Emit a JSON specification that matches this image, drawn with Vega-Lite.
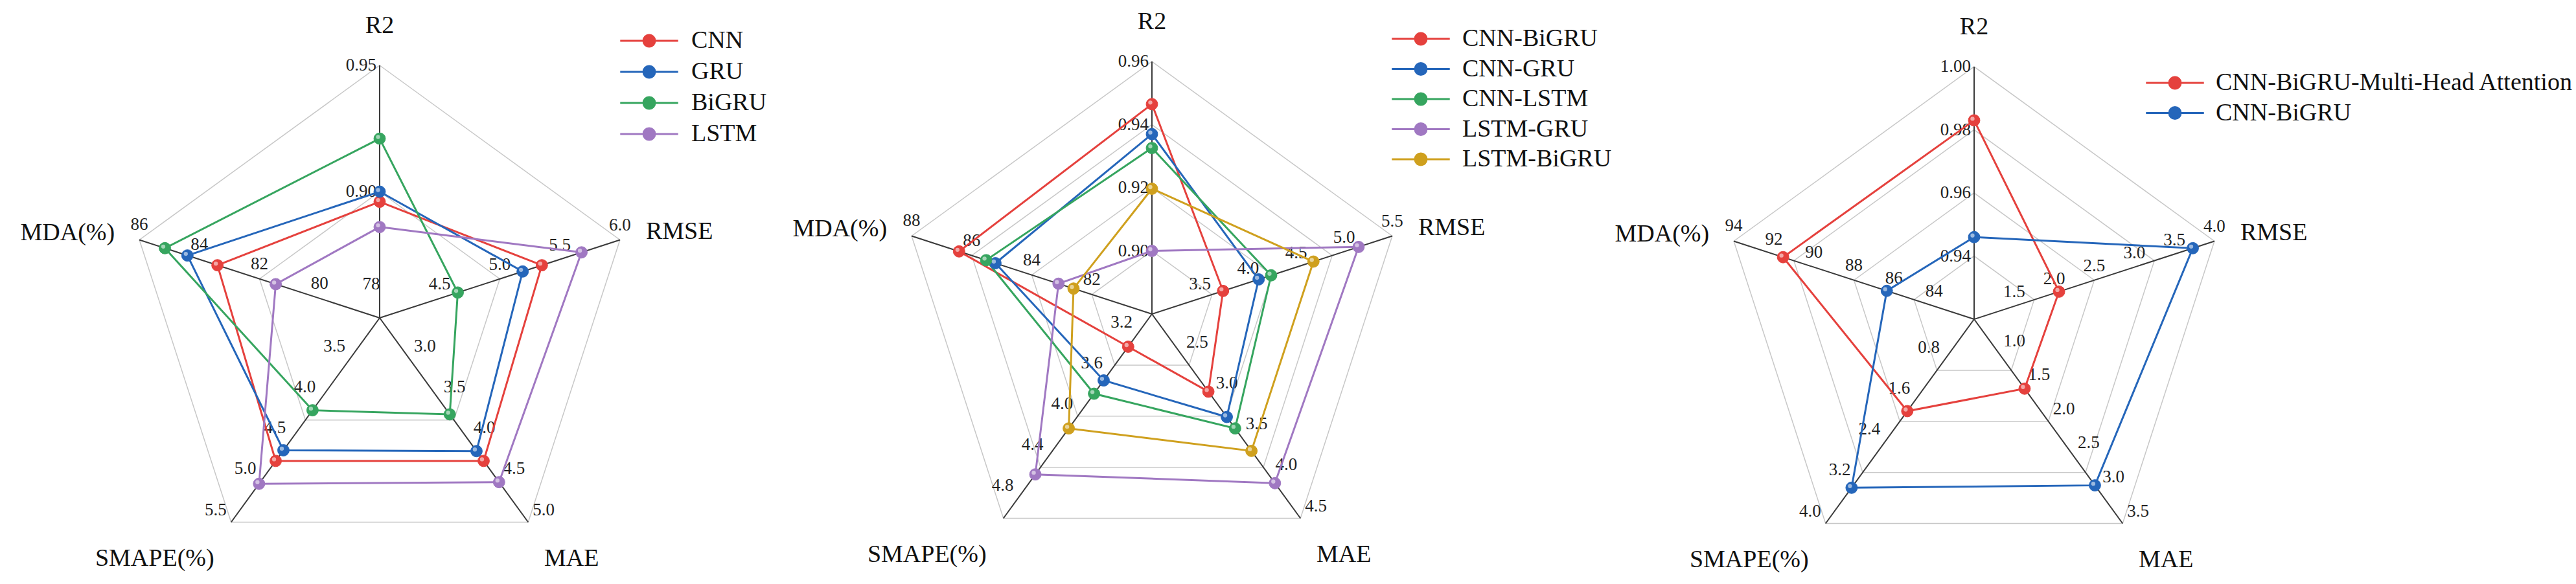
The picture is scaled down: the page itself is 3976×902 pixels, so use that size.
{
  "$schema": "https://vega.github.io/schema/vega-lite/v6.json",
  "padding": 0,
  "spacing": 0,
  "bounds": "flush",
  "background": "white",
  "config": {"view": {"stroke": null}, "axis": {"disable": true}},
  "resolve": {"scale": {"x": "independent", "y": "independent", "stroke": "independent", "fill": "independent"}},
  "datasets": {
    "ax1": [
      {"metric": "R2", "lo": 0.85, "hi": 0.95, "title": "R2"},
      {"metric": "RMSE", "lo": 4.0, "hi": 6.0, "title": "RMSE"},
      {"metric": "MAE", "lo": 2.5, "hi": 5.0, "title": "MAE"},
      {"metric": "SMAPE", "lo": 3.0, "hi": 5.5, "title": "SMAPE(%)"},
      {"metric": "MDA", "lo": 78, "hi": 86, "title": "MDA(%)"}
    ],
    "ax2": [
      {"metric": "R2", "lo": 0.88, "hi": 0.96, "title": "R2"},
      {"metric": "RMSE", "lo": 3.0, "hi": 5.5, "title": "RMSE"},
      {"metric": "MAE", "lo": 2.0, "hi": 4.5, "title": "MAE"},
      {"metric": "SMAPE", "lo": 3.0, "hi": 5.0, "title": "SMAPE(%)"},
      {"metric": "MDA", "lo": 80, "hi": 88, "title": "MDA(%)"}
    ],
    "ax3": [
      {"metric": "R2", "lo": 0.92, "hi": 1.0, "title": "R2"},
      {"metric": "RMSE", "lo": 1.0, "hi": 4.0, "title": "RMSE"},
      {"metric": "MAE", "lo": 0.5, "hi": 3.5, "title": "MAE"},
      {"metric": "SMAPE", "lo": 0.0, "hi": 4.0, "title": "SMAPE(%)"},
      {"metric": "MDA", "lo": 82, "hi": 94, "title": "MDA(%)"}
    ],
    "tk1": [
      {"metric": "R2", "value": 0.90}, {"metric": "R2", "value": 0.95},
      {"metric": "RMSE", "value": 4.5}, {"metric": "RMSE", "value": 5.0}, {"metric": "RMSE", "value": 5.5}, {"metric": "RMSE", "value": 6.0},
      {"metric": "MAE", "value": 3.0}, {"metric": "MAE", "value": 3.5}, {"metric": "MAE", "value": 4.0}, {"metric": "MAE", "value": 4.5}, {"metric": "MAE", "value": 5.0},
      {"metric": "SMAPE", "value": 3.5}, {"metric": "SMAPE", "value": 4.0}, {"metric": "SMAPE", "value": 4.5}, {"metric": "SMAPE", "value": 5.0}, {"metric": "SMAPE", "value": 5.5},
      {"metric": "MDA", "value": 78}, {"metric": "MDA", "value": 80}, {"metric": "MDA", "value": 82}, {"metric": "MDA", "value": 84}, {"metric": "MDA", "value": 86}
    ],
    "tk2": [
      {"metric": "R2", "value": 0.90}, {"metric": "R2", "value": 0.92}, {"metric": "R2", "value": 0.94}, {"metric": "R2", "value": 0.96},
      {"metric": "RMSE", "value": 3.5}, {"metric": "RMSE", "value": 4.0}, {"metric": "RMSE", "value": 4.5}, {"metric": "RMSE", "value": 5.0}, {"metric": "RMSE", "value": 5.5},
      {"metric": "MAE", "value": 2.5}, {"metric": "MAE", "value": 3.0}, {"metric": "MAE", "value": 3.5}, {"metric": "MAE", "value": 4.0}, {"metric": "MAE", "value": 4.5},
      {"metric": "SMAPE", "value": 3.2}, {"metric": "SMAPE", "value": 3.6}, {"metric": "SMAPE", "value": 4.0}, {"metric": "SMAPE", "value": 4.4}, {"metric": "SMAPE", "value": 4.8},
      {"metric": "MDA", "value": 82}, {"metric": "MDA", "value": 84}, {"metric": "MDA", "value": 86}, {"metric": "MDA", "value": 88}
    ],
    "tk3": [
      {"metric": "R2", "value": 0.94}, {"metric": "R2", "value": 0.96}, {"metric": "R2", "value": 0.98}, {"metric": "R2", "value": 1.00},
      {"metric": "RMSE", "value": 1.5}, {"metric": "RMSE", "value": 2.0}, {"metric": "RMSE", "value": 2.5}, {"metric": "RMSE", "value": 3.0}, {"metric": "RMSE", "value": 3.5}, {"metric": "RMSE", "value": 4.0},
      {"metric": "MAE", "value": 1.0}, {"metric": "MAE", "value": 1.5}, {"metric": "MAE", "value": 2.0}, {"metric": "MAE", "value": 2.5}, {"metric": "MAE", "value": 3.0}, {"metric": "MAE", "value": 3.5},
      {"metric": "SMAPE", "value": 0.8}, {"metric": "SMAPE", "value": 1.6}, {"metric": "SMAPE", "value": 2.4}, {"metric": "SMAPE", "value": 3.2}, {"metric": "SMAPE", "value": 4.0},
      {"metric": "MDA", "value": 84}, {"metric": "MDA", "value": 86}, {"metric": "MDA", "value": 88}, {"metric": "MDA", "value": 90}, {"metric": "MDA", "value": 92}, {"metric": "MDA", "value": 94}
    ],
    "v1": [
      {"model": "CNN", "metric": "R2", "value": 0.896}, {"model": "CNN", "metric": "RMSE", "value": 5.35}, {"model": "CNN", "metric": "MAE", "value": 4.25}, {"model": "CNN", "metric": "SMAPE", "value": 4.75}, {"model": "CNN", "metric": "MDA", "value": 83.4},
      {"model": "GRU", "metric": "R2", "value": 0.900}, {"model": "GRU", "metric": "RMSE", "value": 5.19}, {"model": "GRU", "metric": "MAE", "value": 4.13}, {"model": "GRU", "metric": "SMAPE", "value": 4.62}, {"model": "GRU", "metric": "MDA", "value": 84.4},
      {"model": "BiGRU", "metric": "R2", "value": 0.921}, {"model": "BiGRU", "metric": "RMSE", "value": 4.65}, {"model": "BiGRU", "metric": "MAE", "value": 3.68}, {"model": "BiGRU", "metric": "SMAPE", "value": 4.13}, {"model": "BiGRU", "metric": "MDA", "value": 85.15},
      {"model": "LSTM", "metric": "R2", "value": 0.886}, {"model": "LSTM", "metric": "RMSE", "value": 5.68}, {"model": "LSTM", "metric": "MAE", "value": 4.51}, {"model": "LSTM", "metric": "SMAPE", "value": 5.03}, {"model": "LSTM", "metric": "MDA", "value": 81.46}
    ],
    "v2": [
      {"model": "CNN-BiGRU", "metric": "R2", "value": 0.9465}, {"model": "CNN-BiGRU", "metric": "RMSE", "value": 3.74}, {"model": "CNN-BiGRU", "metric": "MAE", "value": 2.95}, {"model": "CNN-BiGRU", "metric": "SMAPE", "value": 3.32}, {"model": "CNN-BiGRU", "metric": "MDA", "value": 86.42},
      {"model": "CNN-GRU", "metric": "R2", "value": 0.937}, {"model": "CNN-GRU", "metric": "RMSE", "value": 4.11}, {"model": "CNN-GRU", "metric": "MAE", "value": 3.26}, {"model": "CNN-GRU", "metric": "SMAPE", "value": 3.65}, {"model": "CNN-GRU", "metric": "MDA", "value": 85.21},
      {"model": "CNN-LSTM", "metric": "R2", "value": 0.9326}, {"model": "CNN-LSTM", "metric": "RMSE", "value": 4.24}, {"model": "CNN-LSTM", "metric": "MAE", "value": 3.40}, {"model": "CNN-LSTM", "metric": "SMAPE", "value": 3.78}, {"model": "CNN-LSTM", "metric": "MDA", "value": 85.52},
      {"model": "LSTM-GRU", "metric": "R2", "value": 0.900}, {"model": "LSTM-GRU", "metric": "RMSE", "value": 5.15}, {"model": "LSTM-GRU", "metric": "MAE", "value": 4.07}, {"model": "LSTM-GRU", "metric": "SMAPE", "value": 4.57}, {"model": "LSTM-GRU", "metric": "MDA", "value": 83.11},
      {"model": "LSTM-BiGRU", "metric": "R2", "value": 0.9197}, {"model": "LSTM-BiGRU", "metric": "RMSE", "value": 4.68}, {"model": "LSTM-BiGRU", "metric": "MAE", "value": 3.675}, {"model": "LSTM-BiGRU", "metric": "SMAPE", "value": 4.12}, {"model": "LSTM-BiGRU", "metric": "MDA", "value": 82.61}
    ],
    "v3": [
      {"model": "CNN-BiGRU-Multi-Head Attention", "metric": "R2", "value": 0.983}, {"model": "CNN-BiGRU-Multi-Head Attention", "metric": "RMSE", "value": 2.06}, {"model": "CNN-BiGRU-Multi-Head Attention", "metric": "MAE", "value": 1.52}, {"model": "CNN-BiGRU-Multi-Head Attention", "metric": "SMAPE", "value": 1.80}, {"model": "CNN-BiGRU-Multi-Head Attention", "metric": "MDA", "value": 91.54},
      {"model": "CNN-BiGRU", "metric": "R2", "value": 0.946}, {"model": "CNN-BiGRU", "metric": "RMSE", "value": 3.73}, {"model": "CNN-BiGRU", "metric": "MAE", "value": 2.94}, {"model": "CNN-BiGRU", "metric": "SMAPE", "value": 3.30}, {"model": "CNN-BiGRU", "metric": "MDA", "value": 86.36}
    ]
  },
  "hconcat": [
    {
      "width": 1180, "height": 902,
      "encoding": {
        "x": {"field": "px", "type": "quantitative", "scale": {"domain": [-1.5026, 1.5231], "nice": false, "zero": false}, "axis": null},
        "y": {"field": "py", "type": "quantitative", "scale": {"domain": [-1.0538, 1.259], "nice": false, "zero": false}, "axis": null}
      },
      "layer": [
        {"data": {"name": "ax1"}, "transform": [{"calculate": "[0.5, 1]", "as": "lv"}, {"flatten": ["lv"]}, {"calculate": "indexof(['R2','RMSE','MAE','SMAPE','MDA'], datum.metric) * 2 * PI / 5", "as": "a"}, {"calculate": "datum.lv * sin(datum.a)", "as": "px"}, {"calculate": "datum.lv * cos(datum.a)", "as": "py"}],
         "mark": {"type": "line", "interpolate": "linear-closed", "color": "#c8c8c8", "strokeWidth": 1.5},
         "encoding": {"detail": {"field": "lv", "type": "nominal"}, "order": {"field": "a", "type": "quantitative"}}},
        {"data": {"name": "ax1"}, "transform": [{"calculate": "indexof(['R2','RMSE','MAE','SMAPE','MDA'], datum.metric) * 2 * PI / 5", "as": "a"}, {"calculate": "0", "as": "px"}, {"calculate": "0", "as": "py"}, {"calculate": "sin(datum.a)", "as": "ex"}, {"calculate": "cos(datum.a)", "as": "ey"}],
         "mark": {"type": "rule", "color": "#3a3a3a", "strokeWidth": 2},
         "encoding": {"x2": {"field": "ex"}, "y2": {"field": "ey"}}},
        {"data": {"name": "tk1"}, "transform": [{"filter": "datum.metric == 'R2'"}, {"lookup": "metric", "from": {"data": {"name": "ax1"}, "key": "metric", "fields": ["lo", "hi"]}}, {"calculate": "indexof(['R2','RMSE','MAE','SMAPE','MDA'], datum.metric) * 2 * PI / 5", "as": "a"}, {"calculate": "(datum.value - datum.lo) / (datum.hi - datum.lo)", "as": "r"}, {"calculate": "datum.r * sin(datum.a)", "as": "px"}, {"calculate": "datum.r * cos(datum.a)", "as": "py"}],
         "mark": {"type": "text", "align": "right", "baseline": "middle", "dx": -5, "font": "Liberation Serif", "fontSize": 27, "color": "#222"},
         "encoding": {"text": {"field": "value", "type": "quantitative", "format": ".2f"}}},
        {"data": {"name": "tk1"}, "transform": [{"filter": "datum.metric == 'RMSE'"}, {"lookup": "metric", "from": {"data": {"name": "ax1"}, "key": "metric", "fields": ["lo", "hi"]}}, {"calculate": "indexof(['R2','RMSE','MAE','SMAPE','MDA'], datum.metric) * 2 * PI / 5", "as": "a"}, {"calculate": "(datum.value - datum.lo) / (datum.hi - datum.lo)", "as": "r"}, {"calculate": "datum.r * sin(datum.a)", "as": "px"}, {"calculate": "datum.r * cos(datum.a)", "as": "py"}],
         "mark": {"type": "text", "align": "center", "baseline": "middle", "dy": -22, "font": "Liberation Serif", "fontSize": 27, "color": "#222"},
         "encoding": {"text": {"field": "value", "type": "quantitative", "format": ".1f"}}},
        {"data": {"name": "tk1"}, "transform": [{"filter": "datum.metric == 'MAE'"}, {"lookup": "metric", "from": {"data": {"name": "ax1"}, "key": "metric", "fields": ["lo", "hi"]}}, {"calculate": "indexof(['R2','RMSE','MAE','SMAPE','MDA'], datum.metric) * 2 * PI / 5", "as": "a"}, {"calculate": "(datum.value - datum.lo) / (datum.hi - datum.lo)", "as": "r"}, {"calculate": "datum.r * sin(datum.a)", "as": "px"}, {"calculate": "datum.r * cos(datum.a)", "as": "py"}],
         "mark": {"type": "text", "align": "center", "baseline": "middle", "dx": 24, "dy": -19, "font": "Liberation Serif", "fontSize": 27, "color": "#222"},
         "encoding": {"text": {"field": "value", "type": "quantitative", "format": ".1f"}}},
        {"data": {"name": "tk1"}, "transform": [{"filter": "datum.metric == 'SMAPE'"}, {"lookup": "metric", "from": {"data": {"name": "ax1"}, "key": "metric", "fields": ["lo", "hi"]}}, {"calculate": "indexof(['R2','RMSE','MAE','SMAPE','MDA'], datum.metric) * 2 * PI / 5", "as": "a"}, {"calculate": "(datum.value - datum.lo) / (datum.hi - datum.lo)", "as": "r"}, {"calculate": "datum.r * sin(datum.a)", "as": "px"}, {"calculate": "datum.r * cos(datum.a)", "as": "py"}],
         "mark": {"type": "text", "align": "center", "baseline": "middle", "dx": -24, "dy": -19, "font": "Liberation Serif", "fontSize": 27, "color": "#222"},
         "encoding": {"text": {"field": "value", "type": "quantitative", "format": ".1f"}}},
        {"data": {"name": "tk1"}, "transform": [{"filter": "datum.metric == 'MDA'"}, {"lookup": "metric", "from": {"data": {"name": "ax1"}, "key": "metric", "fields": ["lo", "hi"]}}, {"calculate": "indexof(['R2','RMSE','MAE','SMAPE','MDA'], datum.metric) * 2 * PI / 5", "as": "a"}, {"calculate": "(datum.value - datum.lo) / (datum.hi - datum.lo)", "as": "r"}, {"filter": "datum.r > 0"}, {"calculate": "datum.r * sin(datum.a)", "as": "px"}, {"calculate": "datum.r * cos(datum.a)", "as": "py"}],
         "mark": {"type": "text", "align": "center", "baseline": "middle", "dy": -23, "font": "Liberation Serif", "fontSize": 27, "color": "#222"},
         "encoding": {"text": {"field": "value", "type": "quantitative", "format": "d"}}},
        {"data": {"name": "tk1"}, "transform": [{"filter": "datum.metric == 'MDA'"}, {"lookup": "metric", "from": {"data": {"name": "ax1"}, "key": "metric", "fields": ["lo", "hi"]}}, {"calculate": "indexof(['R2','RMSE','MAE','SMAPE','MDA'], datum.metric) * 2 * PI / 5", "as": "a"}, {"calculate": "(datum.value - datum.lo) / (datum.hi - datum.lo)", "as": "r"}, {"filter": "datum.r == 0"}, {"calculate": "datum.r * sin(datum.a)", "as": "px"}, {"calculate": "datum.r * cos(datum.a)", "as": "py"}],
         "mark": {"type": "text", "align": "center", "baseline": "middle", "dx": -13, "dy": -52, "font": "Liberation Serif", "fontSize": 27, "color": "#222"},
         "encoding": {"text": {"field": "value", "type": "quantitative", "format": "d"}}},
        {"data": {"name": "v1"}, "transform": [{"lookup": "metric", "from": {"data": {"name": "ax1"}, "key": "metric", "fields": ["lo", "hi"]}}, {"calculate": "indexof(['R2','RMSE','MAE','SMAPE','MDA'], datum.metric) * 2 * PI / 5", "as": "a"}, {"calculate": "(datum.value - datum.lo) / (datum.hi - datum.lo)", "as": "r"}, {"calculate": "datum.r * sin(datum.a)", "as": "px"}, {"calculate": "datum.r * cos(datum.a)", "as": "py"}],
         "mark": {"type": "line", "interpolate": "linear-closed", "strokeWidth": 3},
         "encoding": {
           "stroke": {"field": "model", "type": "nominal", "scale": {"domain": ["CNN", "GRU", "BiGRU", "LSTM"], "range": ["#E5413D", "#2566BA", "#36A55F", "#A078C2"]},
             "legend": {"title": null, "orient": "none", "legendX": 983, "legendY": 44, "symbolType": "M-5,0L-1,0M1,0L5,0M1,0A1,1,0,1,1,-1,0A1,1,0,1,1,1,0Z", "symbolSize": 320, "symbolStrokeWidth": 3, "labelFont": "Liberation Serif", "labelFontSize": 38, "labelColor": "#111", "labelOffset": 46, "rowPadding": 10, "labelLimit": 1000}},
           "order": {"field": "a", "type": "quantitative"}}},
        {"data": {"name": "v1"}, "transform": [{"lookup": "metric", "from": {"data": {"name": "ax1"}, "key": "metric", "fields": ["lo", "hi"]}}, {"calculate": "indexof(['R2','RMSE','MAE','SMAPE','MDA'], datum.metric) * 2 * PI / 5", "as": "a"}, {"calculate": "(datum.value - datum.lo) / (datum.hi - datum.lo)", "as": "r"}, {"calculate": "datum.r * sin(datum.a)", "as": "px"}, {"calculate": "datum.r * cos(datum.a)", "as": "py"}],
         "mark": {"type": "point", "filled": true, "size": 320, "opacity": 1, "strokeWidth": 1},
         "encoding": {
           "fill": {"field": "model", "type": "nominal", "scale": {"domain": ["CNN", "GRU", "BiGRU", "LSTM"], "range": ["#E5413D", "#2566BA", "#36A55F", "#A078C2"]},
             "legend": {"title": null, "orient": "none", "legendX": 983, "legendY": 44, "symbolType": "M-5,0L-1,0M1,0L5,0M1,0A1,1,0,1,1,-1,0A1,1,0,1,1,1,0Z", "symbolSize": 320, "symbolStrokeWidth": 3, "labelFont": "Liberation Serif", "labelFontSize": 38, "labelColor": "#111", "labelOffset": 46, "rowPadding": 10, "labelLimit": 1000}},
           "stroke": {"field": "model", "type": "nominal"}}},
        {"data": {"name": "v1"}, "transform": [{"lookup": "metric", "from": {"data": {"name": "ax1"}, "key": "metric", "fields": ["lo", "hi"]}}, {"calculate": "indexof(['R2','RMSE','MAE','SMAPE','MDA'], datum.metric) * 2 * PI / 5", "as": "a"}, {"calculate": "(datum.value - datum.lo) / (datum.hi - datum.lo)", "as": "r"}, {"calculate": "datum.r * sin(datum.a)", "as": "px"}, {"calculate": "datum.r * cos(datum.a)", "as": "py"}],
         "mark": {"type": "point", "filled": true, "size": 40, "color": "white", "opacity": 0.55},
         "encoding": {"xOffset": {"value": -2.5}, "yOffset": {"value": -2.5}}},
        {"data": {"name": "ax1"}, "transform": [{"filter": "datum.metric == 'R2'"}, {"calculate": "indexof(['R2','RMSE','MAE','SMAPE','MDA'], datum.metric) * 2 * PI / 5", "as": "a"}, {"calculate": "sin(datum.a)", "as": "px"}, {"calculate": "cos(datum.a)", "as": "py"}],
         "mark": {"type": "text", "align": "center", "baseline": "middle", "dy": -61, "font": "Liberation Serif", "fontSize": 38, "color": "#111"}, "encoding": {"text": {"field": "title"}}},
        {"data": {"name": "ax1"}, "transform": [{"filter": "datum.metric == 'RMSE'"}, {"calculate": "indexof(['R2','RMSE','MAE','SMAPE','MDA'], datum.metric) * 2 * PI / 5", "as": "a"}, {"calculate": "sin(datum.a)", "as": "px"}, {"calculate": "cos(datum.a)", "as": "py"}],
         "mark": {"type": "text", "align": "left", "baseline": "middle", "dx": 40, "dy": -12, "font": "Liberation Serif", "fontSize": 38, "color": "#111"}, "encoding": {"text": {"field": "title"}}},
        {"data": {"name": "ax1"}, "transform": [{"filter": "datum.metric == 'MAE'"}, {"calculate": "indexof(['R2','RMSE','MAE','SMAPE','MDA'], datum.metric) * 2 * PI / 5", "as": "a"}, {"calculate": "sin(datum.a)", "as": "px"}, {"calculate": "cos(datum.a)", "as": "py"}],
         "mark": {"type": "text", "align": "center", "baseline": "middle", "dx": 67, "dy": 56, "font": "Liberation Serif", "fontSize": 38, "color": "#111"}, "encoding": {"text": {"field": "title"}}},
        {"data": {"name": "ax1"}, "transform": [{"filter": "datum.metric == 'SMAPE'"}, {"calculate": "indexof(['R2','RMSE','MAE','SMAPE','MDA'], datum.metric) * 2 * PI / 5", "as": "a"}, {"calculate": "sin(datum.a)", "as": "px"}, {"calculate": "cos(datum.a)", "as": "py"}],
         "mark": {"type": "text", "align": "center", "baseline": "middle", "dx": -118, "dy": 56, "font": "Liberation Serif", "fontSize": 38, "color": "#111"}, "encoding": {"text": {"field": "title"}}},
        {"data": {"name": "ax1"}, "transform": [{"filter": "datum.metric == 'MDA'"}, {"calculate": "indexof(['R2','RMSE','MAE','SMAPE','MDA'], datum.metric) * 2 * PI / 5", "as": "a"}, {"calculate": "sin(datum.a)", "as": "px"}, {"calculate": "cos(datum.a)", "as": "py"}],
         "mark": {"type": "text", "align": "right", "baseline": "middle", "dx": -38, "dy": -10, "font": "Liberation Serif", "fontSize": 38, "color": "#111"}, "encoding": {"text": {"field": "title"}}}
      ]
    },
    {
      "width": 1220, "height": 902,
      "encoding": {
        "x": {"field": "px", "type": "quantitative", "scale": {"domain": [-1.5333, 1.5949], "nice": false, "zero": false}, "axis": null},
        "y": {"field": "py", "type": "quantitative", "scale": {"domain": [-1.0692, 1.2436], "nice": false, "zero": false}, "axis": null}
      },
      "layer": [
        {"data": {"name": "ax2"}, "transform": [{"calculate": "[0.25, 0.5, 0.75, 1]", "as": "lv"}, {"flatten": ["lv"]}, {"calculate": "indexof(['R2','RMSE','MAE','SMAPE','MDA'], datum.metric) * 2 * PI / 5", "as": "a"}, {"calculate": "datum.lv * sin(datum.a)", "as": "px"}, {"calculate": "datum.lv * cos(datum.a)", "as": "py"}],
         "mark": {"type": "line", "interpolate": "linear-closed", "color": "#c8c8c8", "strokeWidth": 1.5},
         "encoding": {"detail": {"field": "lv", "type": "nominal"}, "order": {"field": "a", "type": "quantitative"}}},
        {"data": {"name": "ax2"}, "transform": [{"calculate": "indexof(['R2','RMSE','MAE','SMAPE','MDA'], datum.metric) * 2 * PI / 5", "as": "a"}, {"calculate": "0", "as": "px"}, {"calculate": "0", "as": "py"}, {"calculate": "sin(datum.a)", "as": "ex"}, {"calculate": "cos(datum.a)", "as": "ey"}],
         "mark": {"type": "rule", "color": "#3a3a3a", "strokeWidth": 2},
         "encoding": {"x2": {"field": "ex"}, "y2": {"field": "ey"}}},
        {"data": {"name": "tk2"}, "transform": [{"filter": "datum.metric == 'R2'"}, {"lookup": "metric", "from": {"data": {"name": "ax2"}, "key": "metric", "fields": ["lo", "hi"]}}, {"calculate": "indexof(['R2','RMSE','MAE','SMAPE','MDA'], datum.metric) * 2 * PI / 5", "as": "a"}, {"calculate": "(datum.value - datum.lo) / (datum.hi - datum.lo)", "as": "r"}, {"calculate": "datum.r * sin(datum.a)", "as": "px"}, {"calculate": "datum.r * cos(datum.a)", "as": "py"}],
         "mark": {"type": "text", "align": "right", "baseline": "middle", "dx": -5, "font": "Liberation Serif", "fontSize": 27, "color": "#222"},
         "encoding": {"text": {"field": "value", "type": "quantitative", "format": ".2f"}}},
        {"data": {"name": "tk2"}, "transform": [{"filter": "datum.metric == 'RMSE'"}, {"lookup": "metric", "from": {"data": {"name": "ax2"}, "key": "metric", "fields": ["lo", "hi"]}}, {"calculate": "indexof(['R2','RMSE','MAE','SMAPE','MDA'], datum.metric) * 2 * PI / 5", "as": "a"}, {"calculate": "(datum.value - datum.lo) / (datum.hi - datum.lo)", "as": "r"}, {"calculate": "datum.r * sin(datum.a)", "as": "px"}, {"calculate": "datum.r * cos(datum.a)", "as": "py"}],
         "mark": {"type": "text", "align": "center", "baseline": "middle", "dy": -22, "font": "Liberation Serif", "fontSize": 27, "color": "#222"},
         "encoding": {"text": {"field": "value", "type": "quantitative", "format": ".1f"}}},
        {"data": {"name": "tk2"}, "transform": [{"filter": "datum.metric == 'MAE'"}, {"lookup": "metric", "from": {"data": {"name": "ax2"}, "key": "metric", "fields": ["lo", "hi"]}}, {"calculate": "indexof(['R2','RMSE','MAE','SMAPE','MDA'], datum.metric) * 2 * PI / 5", "as": "a"}, {"calculate": "(datum.value - datum.lo) / (datum.hi - datum.lo)", "as": "r"}, {"calculate": "datum.r * sin(datum.a)", "as": "px"}, {"calculate": "datum.r * cos(datum.a)", "as": "py"}],
         "mark": {"type": "text", "align": "center", "baseline": "middle", "dx": 24, "dy": -19, "font": "Liberation Serif", "fontSize": 27, "color": "#222"},
         "encoding": {"text": {"field": "value", "type": "quantitative", "format": ".1f"}}},
        {"data": {"name": "tk2"}, "transform": [{"filter": "datum.metric == 'SMAPE'"}, {"lookup": "metric", "from": {"data": {"name": "ax2"}, "key": "metric", "fields": ["lo", "hi"]}}, {"calculate": "indexof(['R2','RMSE','MAE','SMAPE','MDA'], datum.metric) * 2 * PI / 5", "as": "a"}, {"calculate": "(datum.value - datum.lo) / (datum.hi - datum.lo)", "as": "r"}, {"calculate": "datum.r * sin(datum.a)", "as": "px"}, {"calculate": "datum.r * cos(datum.a)", "as": "py"}],
         "mark": {"type": "text", "align": "center", "baseline": "middle", "dx": -24, "dy": -19, "font": "Liberation Serif", "fontSize": 27, "color": "#222"},
         "encoding": {"text": {"field": "value", "type": "quantitative", "format": ".1f"}}},
        {"data": {"name": "tk2"}, "transform": [{"filter": "datum.metric == 'MDA'"}, {"lookup": "metric", "from": {"data": {"name": "ax2"}, "key": "metric", "fields": ["lo", "hi"]}}, {"calculate": "indexof(['R2','RMSE','MAE','SMAPE','MDA'], datum.metric) * 2 * PI / 5", "as": "a"}, {"calculate": "(datum.value - datum.lo) / (datum.hi - datum.lo)", "as": "r"}, {"calculate": "datum.r * sin(datum.a)", "as": "px"}, {"calculate": "datum.r * cos(datum.a)", "as": "py"}],
         "mark": {"type": "text", "align": "center", "baseline": "middle", "dy": -23, "font": "Liberation Serif", "fontSize": 27, "color": "#222"},
         "encoding": {"text": {"field": "value", "type": "quantitative", "format": "d"}}},
        {"data": {"name": "v2"}, "transform": [{"lookup": "metric", "from": {"data": {"name": "ax2"}, "key": "metric", "fields": ["lo", "hi"]}}, {"calculate": "indexof(['R2','RMSE','MAE','SMAPE','MDA'], datum.metric) * 2 * PI / 5", "as": "a"}, {"calculate": "(datum.value - datum.lo) / (datum.hi - datum.lo)", "as": "r"}, {"calculate": "datum.r * sin(datum.a)", "as": "px"}, {"calculate": "datum.r * cos(datum.a)", "as": "py"}],
         "mark": {"type": "line", "interpolate": "linear-closed", "strokeWidth": 3},
         "encoding": {
           "stroke": {"field": "model", "type": "nominal", "scale": {"domain": ["CNN-BiGRU", "CNN-GRU", "CNN-LSTM", "LSTM-GRU", "LSTM-BiGRU"], "range": ["#E5413D", "#2566BA", "#36A55F", "#A078C2", "#CFA01E"]},
             "legend": {"title": null, "orient": "none", "legendX": 994, "legendY": 41, "symbolType": "M-5,0L-1,0M1,0L5,0M1,0A1,1,0,1,1,-1,0A1,1,0,1,1,1,0Z", "symbolSize": 320, "symbolStrokeWidth": 3, "labelFont": "Liberation Serif", "labelFontSize": 38, "labelColor": "#111", "labelOffset": 45, "rowPadding": 8.5, "labelLimit": 1000}},
           "order": {"field": "a", "type": "quantitative"}}},
        {"data": {"name": "v2"}, "transform": [{"lookup": "metric", "from": {"data": {"name": "ax2"}, "key": "metric", "fields": ["lo", "hi"]}}, {"calculate": "indexof(['R2','RMSE','MAE','SMAPE','MDA'], datum.metric) * 2 * PI / 5", "as": "a"}, {"calculate": "(datum.value - datum.lo) / (datum.hi - datum.lo)", "as": "r"}, {"calculate": "datum.r * sin(datum.a)", "as": "px"}, {"calculate": "datum.r * cos(datum.a)", "as": "py"}],
         "mark": {"type": "point", "filled": true, "size": 320, "opacity": 1, "strokeWidth": 1},
         "encoding": {
           "fill": {"field": "model", "type": "nominal", "scale": {"domain": ["CNN-BiGRU", "CNN-GRU", "CNN-LSTM", "LSTM-GRU", "LSTM-BiGRU"], "range": ["#E5413D", "#2566BA", "#36A55F", "#A078C2", "#CFA01E"]},
             "legend": {"title": null, "orient": "none", "legendX": 994, "legendY": 41, "symbolType": "M-5,0L-1,0M1,0L5,0M1,0A1,1,0,1,1,-1,0A1,1,0,1,1,1,0Z", "symbolSize": 320, "symbolStrokeWidth": 3, "labelFont": "Liberation Serif", "labelFontSize": 38, "labelColor": "#111", "labelOffset": 45, "rowPadding": 8.5, "labelLimit": 1000}},
           "stroke": {"field": "model", "type": "nominal"}}},
        {"data": {"name": "v2"}, "transform": [{"lookup": "metric", "from": {"data": {"name": "ax2"}, "key": "metric", "fields": ["lo", "hi"]}}, {"calculate": "indexof(['R2','RMSE','MAE','SMAPE','MDA'], datum.metric) * 2 * PI / 5", "as": "a"}, {"calculate": "(datum.value - datum.lo) / (datum.hi - datum.lo)", "as": "r"}, {"calculate": "datum.r * sin(datum.a)", "as": "px"}, {"calculate": "datum.r * cos(datum.a)", "as": "py"}],
         "mark": {"type": "point", "filled": true, "size": 40, "color": "white", "opacity": 0.55},
         "encoding": {"xOffset": {"value": -2.5}, "yOffset": {"value": -2.5}}},
        {"data": {"name": "ax2"}, "transform": [{"filter": "datum.metric == 'R2'"}, {"calculate": "indexof(['R2','RMSE','MAE','SMAPE','MDA'], datum.metric) * 2 * PI / 5", "as": "a"}, {"calculate": "sin(datum.a)", "as": "px"}, {"calculate": "cos(datum.a)", "as": "py"}],
         "mark": {"type": "text", "align": "center", "baseline": "middle", "dy": -61, "font": "Liberation Serif", "fontSize": 38, "color": "#111"}, "encoding": {"text": {"field": "title"}}},
        {"data": {"name": "ax2"}, "transform": [{"filter": "datum.metric == 'RMSE'"}, {"calculate": "indexof(['R2','RMSE','MAE','SMAPE','MDA'], datum.metric) * 2 * PI / 5", "as": "a"}, {"calculate": "sin(datum.a)", "as": "px"}, {"calculate": "cos(datum.a)", "as": "py"}],
         "mark": {"type": "text", "align": "left", "baseline": "middle", "dx": 40, "dy": -12, "font": "Liberation Serif", "fontSize": 38, "color": "#111"}, "encoding": {"text": {"field": "title"}}},
        {"data": {"name": "ax2"}, "transform": [{"filter": "datum.metric == 'MAE'"}, {"calculate": "indexof(['R2','RMSE','MAE','SMAPE','MDA'], datum.metric) * 2 * PI / 5", "as": "a"}, {"calculate": "sin(datum.a)", "as": "px"}, {"calculate": "cos(datum.a)", "as": "py"}],
         "mark": {"type": "text", "align": "center", "baseline": "middle", "dx": 67, "dy": 56, "font": "Liberation Serif", "fontSize": 38, "color": "#111"}, "encoding": {"text": {"field": "title"}}},
        {"data": {"name": "ax2"}, "transform": [{"filter": "datum.metric == 'SMAPE'"}, {"calculate": "indexof(['R2','RMSE','MAE','SMAPE','MDA'], datum.metric) * 2 * PI / 5", "as": "a"}, {"calculate": "sin(datum.a)", "as": "px"}, {"calculate": "cos(datum.a)", "as": "py"}],
         "mark": {"type": "text", "align": "center", "baseline": "middle", "dx": -118, "dy": 56, "font": "Liberation Serif", "fontSize": 38, "color": "#111"}, "encoding": {"text": {"field": "title"}}},
        {"data": {"name": "ax2"}, "transform": [{"filter": "datum.metric == 'MDA'"}, {"calculate": "indexof(['R2','RMSE','MAE','SMAPE','MDA'], datum.metric) * 2 * PI / 5", "as": "a"}, {"calculate": "sin(datum.a)", "as": "px"}, {"calculate": "cos(datum.a)", "as": "py"}],
         "mark": {"type": "text", "align": "right", "baseline": "middle", "dx": -38, "dy": -10, "font": "Liberation Serif", "fontSize": 38, "color": "#111"}, "encoding": {"text": {"field": "title"}}}
      ]
    },
    {
      "width": 1576, "height": 902,
      "encoding": {
        "x": {"field": "px", "type": "quantitative", "scale": {"domain": [-1.659, 2.3821], "nice": false, "zero": false}, "axis": null},
        "y": {"field": "py", "type": "quantitative", "scale": {"domain": [-1.0487, 1.2641], "nice": false, "zero": false}, "axis": null}
      },
      "layer": [
        {"data": {"name": "ax3"}, "transform": [{"calculate": "[0.25, 0.5, 0.75, 1]", "as": "lv"}, {"flatten": ["lv"]}, {"calculate": "indexof(['R2','RMSE','MAE','SMAPE','MDA'], datum.metric) * 2 * PI / 5", "as": "a"}, {"calculate": "datum.lv * sin(datum.a)", "as": "px"}, {"calculate": "datum.lv * cos(datum.a)", "as": "py"}],
         "mark": {"type": "line", "interpolate": "linear-closed", "color": "#c8c8c8", "strokeWidth": 1.5},
         "encoding": {"detail": {"field": "lv", "type": "nominal"}, "order": {"field": "a", "type": "quantitative"}}},
        {"data": {"name": "ax3"}, "transform": [{"calculate": "indexof(['R2','RMSE','MAE','SMAPE','MDA'], datum.metric) * 2 * PI / 5", "as": "a"}, {"calculate": "0", "as": "px"}, {"calculate": "0", "as": "py"}, {"calculate": "sin(datum.a)", "as": "ex"}, {"calculate": "cos(datum.a)", "as": "ey"}],
         "mark": {"type": "rule", "color": "#3a3a3a", "strokeWidth": 2},
         "encoding": {"x2": {"field": "ex"}, "y2": {"field": "ey"}}},
        {"data": {"name": "tk3"}, "transform": [{"filter": "datum.metric == 'R2'"}, {"lookup": "metric", "from": {"data": {"name": "ax3"}, "key": "metric", "fields": ["lo", "hi"]}}, {"calculate": "indexof(['R2','RMSE','MAE','SMAPE','MDA'], datum.metric) * 2 * PI / 5", "as": "a"}, {"calculate": "(datum.value - datum.lo) / (datum.hi - datum.lo)", "as": "r"}, {"calculate": "datum.r * sin(datum.a)", "as": "px"}, {"calculate": "datum.r * cos(datum.a)", "as": "py"}],
         "mark": {"type": "text", "align": "right", "baseline": "middle", "dx": -5, "font": "Liberation Serif", "fontSize": 27, "color": "#222"},
         "encoding": {"text": {"field": "value", "type": "quantitative", "format": ".2f"}}},
        {"data": {"name": "tk3"}, "transform": [{"filter": "datum.metric == 'RMSE'"}, {"lookup": "metric", "from": {"data": {"name": "ax3"}, "key": "metric", "fields": ["lo", "hi"]}}, {"calculate": "indexof(['R2','RMSE','MAE','SMAPE','MDA'], datum.metric) * 2 * PI / 5", "as": "a"}, {"calculate": "(datum.value - datum.lo) / (datum.hi - datum.lo)", "as": "r"}, {"calculate": "datum.r * sin(datum.a)", "as": "px"}, {"calculate": "datum.r * cos(datum.a)", "as": "py"}],
         "mark": {"type": "text", "align": "center", "baseline": "middle", "dy": -22, "font": "Liberation Serif", "fontSize": 27, "color": "#222"},
         "encoding": {"text": {"field": "value", "type": "quantitative", "format": ".1f"}}},
        {"data": {"name": "tk3"}, "transform": [{"filter": "datum.metric == 'MAE'"}, {"lookup": "metric", "from": {"data": {"name": "ax3"}, "key": "metric", "fields": ["lo", "hi"]}}, {"calculate": "indexof(['R2','RMSE','MAE','SMAPE','MDA'], datum.metric) * 2 * PI / 5", "as": "a"}, {"calculate": "(datum.value - datum.lo) / (datum.hi - datum.lo)", "as": "r"}, {"calculate": "datum.r * sin(datum.a)", "as": "px"}, {"calculate": "datum.r * cos(datum.a)", "as": "py"}],
         "mark": {"type": "text", "align": "center", "baseline": "middle", "dx": 24, "dy": -19, "font": "Liberation Serif", "fontSize": 27, "color": "#222"},
         "encoding": {"text": {"field": "value", "type": "quantitative", "format": ".1f"}}},
        {"data": {"name": "tk3"}, "transform": [{"filter": "datum.metric == 'SMAPE'"}, {"lookup": "metric", "from": {"data": {"name": "ax3"}, "key": "metric", "fields": ["lo", "hi"]}}, {"calculate": "indexof(['R2','RMSE','MAE','SMAPE','MDA'], datum.metric) * 2 * PI / 5", "as": "a"}, {"calculate": "(datum.value - datum.lo) / (datum.hi - datum.lo)", "as": "r"}, {"calculate": "datum.r * sin(datum.a)", "as": "px"}, {"calculate": "datum.r * cos(datum.a)", "as": "py"}],
         "mark": {"type": "text", "align": "center", "baseline": "middle", "dx": -24, "dy": -19, "font": "Liberation Serif", "fontSize": 27, "color": "#222"},
         "encoding": {"text": {"field": "value", "type": "quantitative", "format": ".1f"}}},
        {"data": {"name": "tk3"}, "transform": [{"filter": "datum.metric == 'MDA'"}, {"lookup": "metric", "from": {"data": {"name": "ax3"}, "key": "metric", "fields": ["lo", "hi"]}}, {"calculate": "indexof(['R2','RMSE','MAE','SMAPE','MDA'], datum.metric) * 2 * PI / 5", "as": "a"}, {"calculate": "(datum.value - datum.lo) / (datum.hi - datum.lo)", "as": "r"}, {"calculate": "datum.r * sin(datum.a)", "as": "px"}, {"calculate": "datum.r * cos(datum.a)", "as": "py"}],
         "mark": {"type": "text", "align": "center", "baseline": "middle", "dy": -23, "font": "Liberation Serif", "fontSize": 27, "color": "#222"},
         "encoding": {"text": {"field": "value", "type": "quantitative", "format": "d"}}},
        {"data": {"name": "v3"}, "transform": [{"lookup": "metric", "from": {"data": {"name": "ax3"}, "key": "metric", "fields": ["lo", "hi"]}}, {"calculate": "indexof(['R2','RMSE','MAE','SMAPE','MDA'], datum.metric) * 2 * PI / 5", "as": "a"}, {"calculate": "(datum.value - datum.lo) / (datum.hi - datum.lo)", "as": "r"}, {"calculate": "datum.r * sin(datum.a)", "as": "px"}, {"calculate": "datum.r * cos(datum.a)", "as": "py"}],
         "mark": {"type": "line", "interpolate": "linear-closed", "strokeWidth": 3},
         "encoding": {
           "stroke": {"field": "model", "type": "nominal", "scale": {"domain": ["CNN-BiGRU-Multi-Head Attention", "CNN-BiGRU"], "range": ["#E5413D", "#2566BA"]},
             "legend": {"title": null, "orient": "none", "legendX": 938, "legendY": 109, "symbolType": "M-5,0L-1,0M1,0L5,0M1,0A1,1,0,1,1,-1,0A1,1,0,1,1,1,0Z", "symbolSize": 320, "symbolStrokeWidth": 3, "labelFont": "Liberation Serif", "labelFontSize": 38, "labelColor": "#111", "labelOffset": 44, "rowPadding": 8.5, "labelLimit": 1000}},
           "order": {"field": "a", "type": "quantitative"}}},
        {"data": {"name": "v3"}, "transform": [{"lookup": "metric", "from": {"data": {"name": "ax3"}, "key": "metric", "fields": ["lo", "hi"]}}, {"calculate": "indexof(['R2','RMSE','MAE','SMAPE','MDA'], datum.metric) * 2 * PI / 5", "as": "a"}, {"calculate": "(datum.value - datum.lo) / (datum.hi - datum.lo)", "as": "r"}, {"calculate": "datum.r * sin(datum.a)", "as": "px"}, {"calculate": "datum.r * cos(datum.a)", "as": "py"}],
         "mark": {"type": "point", "filled": true, "size": 320, "opacity": 1, "strokeWidth": 1},
         "encoding": {
           "fill": {"field": "model", "type": "nominal", "scale": {"domain": ["CNN-BiGRU-Multi-Head Attention", "CNN-BiGRU"], "range": ["#E5413D", "#2566BA"]},
             "legend": {"title": null, "orient": "none", "legendX": 938, "legendY": 109, "symbolType": "M-5,0L-1,0M1,0L5,0M1,0A1,1,0,1,1,-1,0A1,1,0,1,1,1,0Z", "symbolSize": 320, "symbolStrokeWidth": 3, "labelFont": "Liberation Serif", "labelFontSize": 38, "labelColor": "#111", "labelOffset": 44, "rowPadding": 8.5, "labelLimit": 1000}},
           "stroke": {"field": "model", "type": "nominal"}}},
        {"data": {"name": "v3"}, "transform": [{"lookup": "metric", "from": {"data": {"name": "ax3"}, "key": "metric", "fields": ["lo", "hi"]}}, {"calculate": "indexof(['R2','RMSE','MAE','SMAPE','MDA'], datum.metric) * 2 * PI / 5", "as": "a"}, {"calculate": "(datum.value - datum.lo) / (datum.hi - datum.lo)", "as": "r"}, {"calculate": "datum.r * sin(datum.a)", "as": "px"}, {"calculate": "datum.r * cos(datum.a)", "as": "py"}],
         "mark": {"type": "point", "filled": true, "size": 40, "color": "white", "opacity": 0.55},
         "encoding": {"xOffset": {"value": -2.5}, "yOffset": {"value": -2.5}}},
        {"data": {"name": "ax3"}, "transform": [{"filter": "datum.metric == 'R2'"}, {"calculate": "indexof(['R2','RMSE','MAE','SMAPE','MDA'], datum.metric) * 2 * PI / 5", "as": "a"}, {"calculate": "sin(datum.a)", "as": "px"}, {"calculate": "cos(datum.a)", "as": "py"}],
         "mark": {"type": "text", "align": "center", "baseline": "middle", "dy": -61, "font": "Liberation Serif", "fontSize": 38, "color": "#111"}, "encoding": {"text": {"field": "title"}}},
        {"data": {"name": "ax3"}, "transform": [{"filter": "datum.metric == 'RMSE'"}, {"calculate": "indexof(['R2','RMSE','MAE','SMAPE','MDA'], datum.metric) * 2 * PI / 5", "as": "a"}, {"calculate": "sin(datum.a)", "as": "px"}, {"calculate": "cos(datum.a)", "as": "py"}],
         "mark": {"type": "text", "align": "left", "baseline": "middle", "dx": 40, "dy": -12, "font": "Liberation Serif", "fontSize": 38, "color": "#111"}, "encoding": {"text": {"field": "title"}}},
        {"data": {"name": "ax3"}, "transform": [{"filter": "datum.metric == 'MAE'"}, {"calculate": "indexof(['R2','RMSE','MAE','SMAPE','MDA'], datum.metric) * 2 * PI / 5", "as": "a"}, {"calculate": "sin(datum.a)", "as": "px"}, {"calculate": "cos(datum.a)", "as": "py"}],
         "mark": {"type": "text", "align": "center", "baseline": "middle", "dx": 67, "dy": 56, "font": "Liberation Serif", "fontSize": 38, "color": "#111"}, "encoding": {"text": {"field": "title"}}},
        {"data": {"name": "ax3"}, "transform": [{"filter": "datum.metric == 'SMAPE'"}, {"calculate": "indexof(['R2','RMSE','MAE','SMAPE','MDA'], datum.metric) * 2 * PI / 5", "as": "a"}, {"calculate": "sin(datum.a)", "as": "px"}, {"calculate": "cos(datum.a)", "as": "py"}],
         "mark": {"type": "text", "align": "center", "baseline": "middle", "dx": -118, "dy": 56, "font": "Liberation Serif", "fontSize": 38, "color": "#111"}, "encoding": {"text": {"field": "title"}}},
        {"data": {"name": "ax3"}, "transform": [{"filter": "datum.metric == 'MDA'"}, {"calculate": "indexof(['R2','RMSE','MAE','SMAPE','MDA'], datum.metric) * 2 * PI / 5", "as": "a"}, {"calculate": "sin(datum.a)", "as": "px"}, {"calculate": "cos(datum.a)", "as": "py"}],
         "mark": {"type": "text", "align": "right", "baseline": "middle", "dx": -38, "dy": -10, "font": "Liberation Serif", "fontSize": 38, "color": "#111"}, "encoding": {"text": {"field": "title"}}}
      ]
    }
  ]
}
